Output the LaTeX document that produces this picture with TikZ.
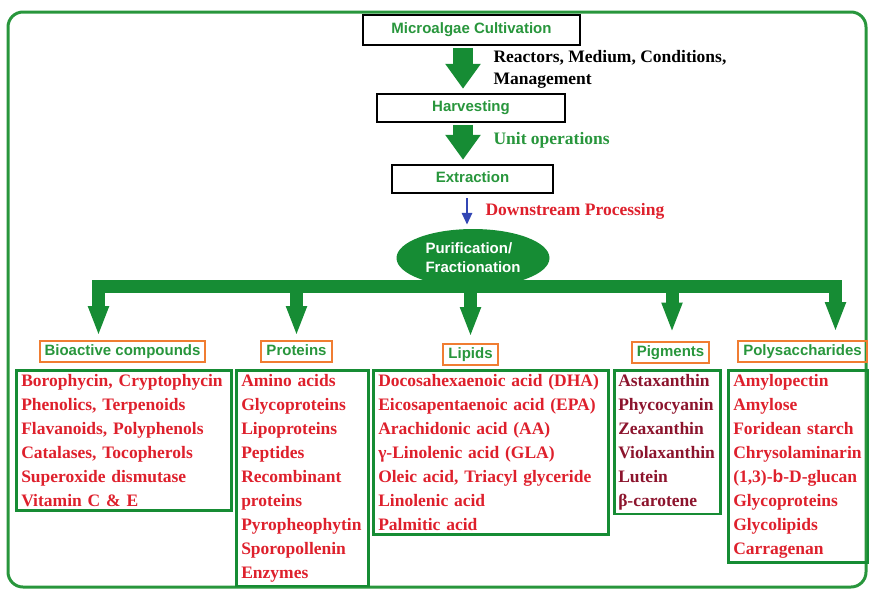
\documentclass[tikz,border=0pt]{standalone}
\usepackage{fontspec}
\setmainfont{Liberation Serif}
\setsansfont{Liberation Sans}
\usepackage{tikz}
\usetikzlibrary{shapes,arrows.meta,positioning}

\definecolor{leafgreen}{RGB}{22,140,52}
\definecolor{labelgreen}{RGB}{40,150,60}
\definecolor{tagorange}{RGB}{240,125,50}
\definecolor{itemred}{RGB}{222,32,44}
\definecolor{itemmaroon}{RGB}{140,20,45}
\definecolor{flowblue}{RGB}{50,70,180}

\begin{document}
\begin{tikzpicture}[
        x=1pt, y=-1pt,
        stepbox/.style={draw=black, line width=2.5pt, fill=white, text=labelgreen, font=\sffamily\bfseries\fontsize{15}{18}\selectfont, inner sep=0pt, text height=11pt, text depth=3.5pt},
        tagbox/.style={draw=tagorange, line width=2pt, text=labelgreen, font=\sffamily\bfseries\fontsize{15}{18}\selectfont, inner xsep=5pt, inner ysep=3pt, text height=11.5pt, text depth=3.5pt},
        itembox/.style={draw=leafgreen, line width=2.5pt, anchor=north west, align=left, text=itemred, font=\bfseries\fontsize{17.5}{24}\selectfont, inner xsep=5pt, inner ysep=4pt},
        flowtext/.style={font=\bfseries\fontsize{17.5}{22}\selectfont, anchor=west, align=left},
        bigarrow/.style={draw=leafgreen, line width=20pt, -{Triangle[width=34pt,length=25pt]}, shorten <=1.5pt, shorten >=4pt},
        branch/.style={draw=leafgreen, line width=13pt, -{Triangle[width=19pt,length=30pt]}}
    ]
        \useasboundingbox (0,0) rectangle (869,590);

        % Outer frame
        \draw[labelgreen, line width=3pt, rounded corners=15pt] (8,12) rectangle (866,587);

        % Process steps
        \node[stepbox, minimum width=217pt, minimum height=30pt] (cult) at (471.5,30) {Microalgae Cultivation};
        \node[stepbox, minimum width=188pt, minimum height=28pt] (harv) at (471,108) {Harvesting};
        \node[stepbox, minimum width=161pt, minimum height=28pt] (extr) at (472.5,179) {Extraction};
        \node[ellipse, fill=leafgreen, text=white, minimum width=153pt, minimum height=58pt, inner sep=0pt, align=left, font=\sffamily\bfseries\fontsize{15}{19}\selectfont] (puri) at (473,258) {Purification/\\Fractionation};

        \coordinate (spine) at (463,0);
        \coordinate (bluex) at (467,0);

        % Flow arrows
        \draw[bigarrow] (cult.south -| spine) -- (harv.north -| spine);
        \draw[bigarrow] (harv.south -| spine) -- (extr.north -| spine);
        \draw[flowblue, line width=2.8pt, -{Triangle[width=10pt,length=12pt]}, shorten <=4pt, shorten >=4pt] (extr.south -| bluex) -- (puri.north -| bluex);

        \node[flowtext] (cond) at (490,69) {Reactors, Medium, Conditions,\\Management};
        \node[flowtext, text=labelgreen] (unit) at (490,140) {Unit operations};
        \node[flowtext, text=itemred] (down) at (482,211) {Downstream Processing};

        % Fraction labels
        \node[tagbox] (bio) at (122.5,351.5) {Bioactive compounds};
        \node[tagbox] (prot) at (296.5,351.5) {Proteins};
        \node[tagbox] (lip) at (470.5,354.5) {Lipids};
        \node[tagbox] (pig) at (670.5,352) {Pigments};
        \node[tagbox] (poly) at (802.5,351.5) {Polysaccharides};

        % Bus and branches
        \coordinate (busL) at (98.5,286.5);
        \coordinate (busR) at (835.5,286.5);
        \draw[leafgreen, line width=13pt, line cap=rect] (busL) -- (busR);
        \draw[branch, shorten >=4pt] (busL) -- (busL |- bio.north);
        \draw[branch, shorten >=4pt] (prot.north |- busL) -- (prot.north);
        \draw[branch, shorten >=6pt] (lip.north |- busL) -- (lip.north);
        \draw[branch, shorten >=8pt] ([xshift=1.5pt]pig.north |- busL) -- ([xshift=1.5pt]pig.north);
        \draw[branch, shorten >=8pt] (busR) -- (busR |- poly.north);

        % Product lists
        \node[itembox, text width=205pt] (bioI) at (15,369) {Borophycin, Cryptophycin\\Phenolics, Terpenoids\\Flavanoids, Polyphenols\\Catalases, Tocopherols\\Superoxide dismutase\\Vitamin C \& E};
        \node[itembox, text width=122pt] (protI) at (235,369) {Amino acids\\Glycoproteins\\Lipoproteins\\Peptides\\Recombinant\\proteins\\Pyropheophytin\\Sporopollenin\\Enzymes};
        \node[itembox, text width=225pt] (lipI) at (372,369) {Docosahexaenoic acid (DHA)\\Eicosapentaenoic acid (EPA)\\Arachidonic acid (AA)\\γ-Linolenic acid (GLA)\\Oleic acid, Triacyl glyceride\\Linolenic acid\\Palmitic acid};
        \node[itembox, text width=98pt, inner xsep=4pt, text=itemmaroon] (pigI) at (613,369) {Astaxanthin\\Phycocyanin\\Zeaxanthin\\Violaxanthin\\Lutein\\β-carotene};
        \node[itembox, text width=130pt] (polyI) at (727,369) {Amylopectin\\Amylose\\Foridean starch\\Chrysolaminarin\\(1,3)-{\sffamily b}-D-glucan\\Glycoproteins\\Glycolipids\\Carragenan};
\end{tikzpicture}
\end{document}
